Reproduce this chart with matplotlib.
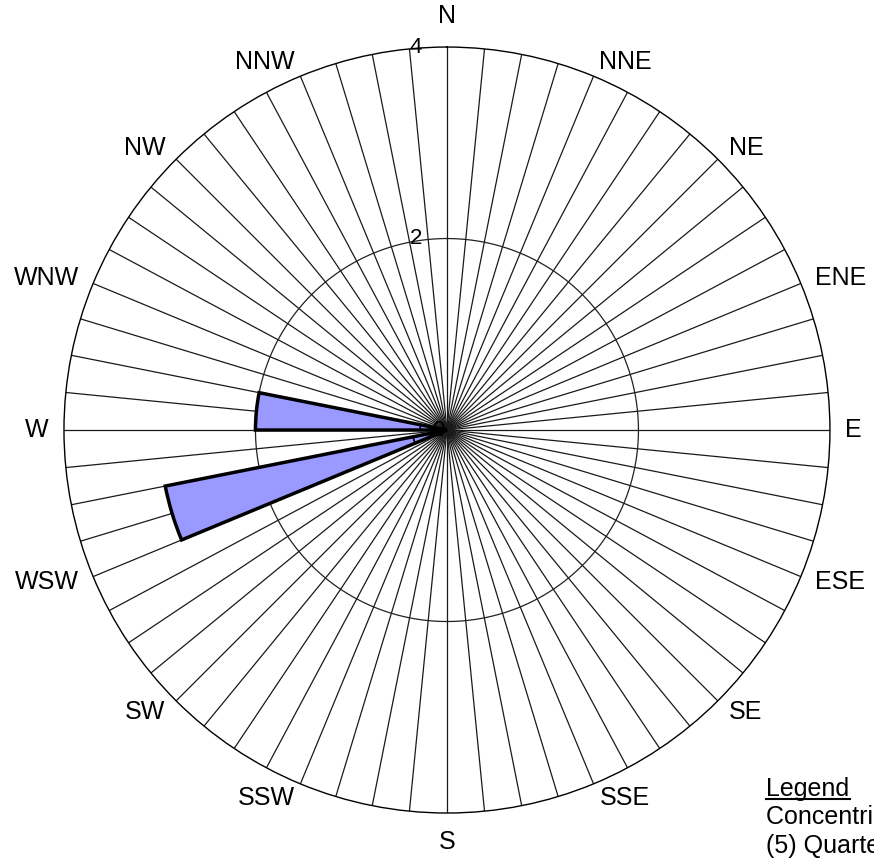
import numpy as np
import matplotlib
matplotlib.use("Agg")
import matplotlib.pyplot as plt
from matplotlib.lines import Line2D
from matplotlib.transforms import offset_copy

plt.rcParams['font.family'] = ['Liberation Sans', 'DejaVu Sans']

# compass directions (labels every 22.5 deg)
compass = ["N", "NNE", "NE", "ENE", "E", "ESE", "SE", "SSE",
           "S", "SSW", "SW", "WSW", "W", "WNW", "NW", "NNW"]

# bins of 11.25 deg, start angle (deg, clockwise from N) and value
bin_start = [247.5, 270.0]
bin_outer = [3.0, 2.0]
bin_inner = [0.36, 0.28]
bin_width = 11.25

r_ticks = [0, 2, 4]

fig = plt.figure(figsize=(8.74, 8.58), dpi=100)
ax = fig.add_axes([0.0732, 0.0524, 0.8764, 0.8928], projection='polar')
ax.set_theta_zero_location('N')
ax.set_theta_direction(-1)
ax.set_ylim(0, 4)
ax.grid(False)
ax.set_xticks([])
ax.set_yticks([])
ax.spines['polar'].set_color('black')
ax.spines['polar'].set_linewidth(1.0)

# 64 spokes
for a in np.arange(0, 360, 5.625):
    ax.plot([np.deg2rad(a), np.deg2rad(a)], [0, 4], color='#1a1a1a', lw=0.9, zorder=1)

# circle at 2
th = np.linspace(0, 2 * np.pi, 400)
ax.plot(th, np.full_like(th, 2), color='#222222', lw=0.9, zorder=1)

# bars
for s, outer, inner in zip(bin_start, bin_outer, bin_inner):
    c = np.deg2rad(s + bin_width / 2)
    w = np.deg2rad(bin_width)
    ax.bar(c, outer, width=w, bottom=0, color='#9999ff', edgecolor='black', lw=2.5, zorder=3)
    ax.bar(c, inner, width=w, bottom=0, color='none', edgecolor='black', lw=1.2, zorder=4)

# compass labels
for i, lab in enumerate(compass):
    a = i * 22.5
    if a == 0:
        r, ha, va = 4.2, 'center', 'bottom'
    elif a == 180:
        r, ha, va = 4.18, 'center', 'top'
    elif a < 180:
        r, ha, va = 4.16, 'left', 'center'
    else:
        r, ha, va = 4.16, 'right', 'center'
    ax.text(np.deg2rad(a), r, lab, ha=ha, va=va, fontsize=18, clip_on=False)

# radial labels
for r in r_ticks:
    dx = -25 if r > 0 else -2
    tr = offset_copy(ax.transData, fig=fig, x=dx, y=0, units='dots')
    ax.text(0, r, str(r), transform=tr, ha='right', va='center', fontsize=16, zorder=5)

# legend text (runs off the figure edge)
fig.text(766 / 874, 1 - 796 / 858, "Legend", fontsize=18, ha='left', va='baseline')
fig.add_artist(Line2D([766 / 874, 850 / 874], [1 - 799 / 858, 1 - 799 / 858],
                      color='black', lw=1.5, transform=fig.transFigure))
fig.text(766 / 874, 1 - 824 / 858, "Concentric circles show frequency",
         fontsize=18, ha='left', va='baseline')
fig.text(766 / 874, 1 - 853 / 858, "(5) Quarterly samples",
         fontsize=18, ha='left', va='baseline')

fig.savefig("out.png", dpi=100)
